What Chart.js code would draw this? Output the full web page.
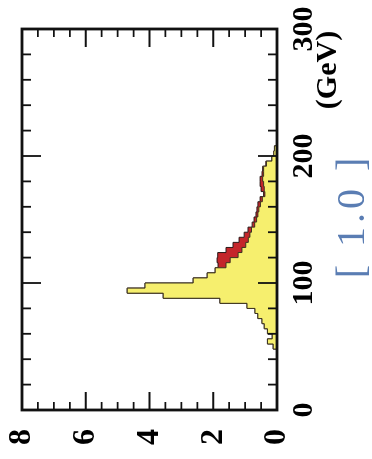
<!DOCTYPE html>
<html>
<head>
<meta charset="utf-8">
<script src="https://cdn.jsdelivr.net/npm/chart.js@4"></script>
<style>
  html, body { margin: 0; padding: 0; background: #fff; overflow: hidden; }
  #turn {
    position: absolute; left: 0; top: 0;
    width: 459px; height: 372px;
    transform-origin: 0 0;
    transform: translateY(459px) rotate(-90deg);
  }
</style>
</head>
<body>
<div id="turn"><canvas id="histo" width="459" height="372"></canvas></div>
<script>
// bin lower edges (GeV), 4 GeV wide
const binLow = [44, 48, 52, 56, 60, 64, 68, 72, 76, 80, 84, 88, 92, 96, 100, 104, 108, 112, 116, 120,
    124, 128, 132, 136, 140, 144, 148, 152, 156, 160, 164, 168, 172, 176, 180, 184, 188, 192, 196, 200, 204, 208];
const binWidth = 4;

// total (red on top) and yellow part
const totalVals = [0, 0.12, 0.30, 0.15, 0.30, 0.40, 0.47, 0.60, 0.69, 0.94, 1.79, 3.57, 4.70, 4.14, 2.63, 2.19, 1.94, 1.85, 1.88, 1.86,
    1.60, 1.38, 1.19, 1.03, 0.91, 0.78, 0.72, 0.66, 0.63, 0.60, 0.53, 0.42, 0.50, 0.53, 0.53, 0.47, 0.45, 0.35, 0.16, 0.10, 0.08, 0];
const yellowVals = [0, 0.12, 0.30, 0.15, 0.30, 0.40, 0.47, 0.60, 0.69, 0.94, 1.79, 3.57, 4.70, 4.14, 2.63, 2.19, 1.94, 1.60, 1.47, 1.22,
    1.10, 0.98, 0.90, 0.85, 0.80, 0.70, 0.64, 0.60, 0.57, 0.52, 0.46, 0.38, 0.40, 0.42, 0.45, 0.42, 0.42, 0.33, 0.16, 0.10, 0.08, 0];

const massTicks = [0, 100, 200, 300];
const countTicks = [0, 2, 4, 6, 8];

function steps(vals) {
    const pts = binLow.map((lo, i) => ({ x: lo, y: vals[i] }));
    pts.push({ x: binLow[binLow.length - 1] + binWidth, y: 0 });
    return pts;
}

const serif = '"Liberation Serif", "DejaVu Serif", serif';

// labels may hang over the frame, so drop the padding Chart.js reserves for them
function noOverhang(s) {
    s.paddingTop = 0; s.paddingBottom = 0; s.paddingLeft = 0; s.paddingRight = 0;
}

// frame with inward ticks on all four sides
const frameTicks = {
    id: 'frameTicks',
    afterDatasetsDraw(chart) {
        const { ctx, chartArea: a, scales: { x, y } } = chart;
        ctx.save();
        ctx.strokeStyle = '#111';
        ctx.lineWidth = 1.8;
        ctx.beginPath();
        for (let g = 0; g <= 300; g += 20) {
            const px = x.getPixelForValue(g);
            const len = g % 100 === 0 ? 19 : 9;
            ctx.moveTo(px, a.bottom); ctx.lineTo(px, a.bottom - len);
            ctx.moveTo(px, a.top); ctx.lineTo(px, a.top + len);
        }
        for (let k = 0; k <= 16; k++) {
            const py = y.getPixelForValue(k * 0.5);
            const len = k % 4 === 0 ? 18 : 8;
            ctx.moveTo(a.left, py); ctx.lineTo(a.left + len, py);
            ctx.moveTo(a.right, py); ctx.lineTo(a.right - len, py);
        }
        ctx.stroke();
        ctx.lineWidth = 2.8;
        ctx.strokeRect(a.left, a.top, a.width, a.height);
        ctx.restore();
    }
};

// (GeV) and [ 1.0 ] labels
const extraText = {
    id: 'extraText',
    afterDraw(chart) {
        const { ctx } = chart;
        ctx.save();
        ctx.textAlign = 'center';
        ctx.textBaseline = 'middle';
        ctx.fillStyle = '#000';
        ctx.font = 'bold 30px ' + serif;
        ctx.fillText('(GeV)', 389, 328);
        ctx.fillStyle = '#5a7db3';
        ctx.font = '40px ' + serif;
        ctx.letterSpacing = '4px';
        ctx.fillText('[ 1.0 ]', 243, 353);
        ctx.restore();
    }
};

new Chart(document.getElementById('histo'), {
    type: 'line',
    data: {
        datasets: [
            {
                data: steps(yellowVals),
                stepped: true,
                fill: 'origin',
                backgroundColor: '#f6ef6e',
                borderColor: '#3b3320',
                borderWidth: 1,
                pointRadius: 0
            },
            {
                data: steps(totalVals),
                stepped: true,
                fill: 'origin',
                backgroundColor: '#c4262b',
                borderColor: '#2a1a1a',
                borderWidth: 1,
                pointRadius: 0
            }
        ]
    },
    options: {
        responsive: false,
        animation: false,
        devicePixelRatio: 1,
        layout: { padding: { left: 0, top: 22, right: 29, bottom: 0 } },
        plugins: { legend: { display: false }, tooltip: { enabled: false } },
        scales: {
            x: {
                type: 'linear',
                min: 0, max: 300,
                afterBuildTicks: s => { s.ticks = massTicks.map(v => ({ value: v })); },
                afterFit: s => { s.height = 95; noOverhang(s); },
                grid: { display: false, drawTicks: false },
                border: { display: false },
                ticks: { color: '#000', padding: 9, font: { family: serif, size: 30, weight: 'bold' } }
            },
            y: {
                min: 0, max: 8,
                afterBuildTicks: s => { s.ticks = countTicks.map(v => ({ value: v })); },
                afterFit: s => { s.width = 49; noOverhang(s); },
                grid: { display: false, drawTicks: false },
                border: { display: false },
                ticks: { color: '#000', padding: 19, font: { family: serif, size: 32, weight: 'bold' } }
            }
        }
    },
    plugins: [frameTicks, extraText]
});
</script>
</body>
</html>
